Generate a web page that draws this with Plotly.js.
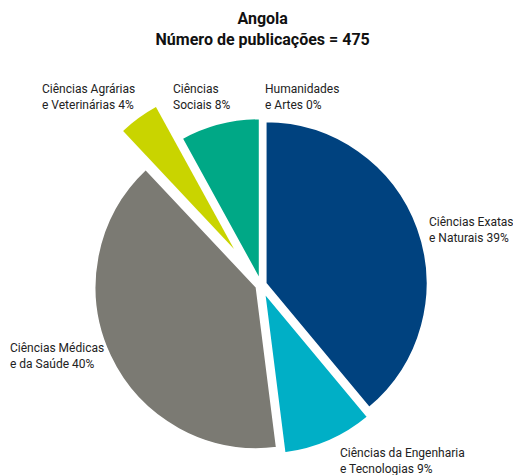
<!DOCTYPE html>
<html><head><meta charset="utf-8">
<script src="https://cdn.plot.ly/plotly-3.0.1.min.js"></script>
<style>html,body{margin:0;padding:0;background:#fff}</style>
</head><body><div id="chart" style="width:513px;height:475px"></div>
<script>
const categories = ["Ciências Exatas<br>e Naturais", "Ciências da Engenharia<br>e Tecnologias", "Ciências Médicas<br>e da Saúde", "Ciências Agrárias<br>e Veterinárias", "Ciências<br>Sociais", "Humanidades<br>e Artes"];
const publications = [185, 43, 190, 19, 38, 0];
const percentLabels = ["39%", "9%", "40%", "4%", "8%", "0%"];
const colors = ["#00427f", "#00afc6", "#7b7a73", "#c9d400", "#00a886", "#bbbbbb"];
const pulls = [0.03, 0.05, 0.03, 0, 0.03, 0];
const labelPos = [[427, 230], [338, 461], [8, 356], [40, 97], [171, 97], [263, 97]];

const W = 513, H = 475;
const cx = 261, cy = 285, R = 162;          // pie centre and radius in px
const bigPullIdx = 3, bigPullOffset = [-27, -36]; // exploded wedge offset in px
const maxPull = Math.max(...pulls);
const half1 = R * (1 + maxPull);

const transparent = 'rgba(0,0,0,0)';
const colors1 = colors.map((c, i) => i === bigPullIdx ? transparent : c);
const colors2 = colors.map((c, i) => i === bigPullIdx ? c : transparent);

const annotations = categories.map((c, i) => ({
  xref: 'paper', yref: 'paper', x: labelPos[i][0] / W, y: 1 - labelPos[i][1] / H,
  xanchor: 'left', yanchor: 'middle', align: 'left', showarrow: false,
  text: c + ' ' + percentLabels[i],
  font: {family: 'Roboto, Arial, sans-serif', size: 12, color: '#222'}
}));

const cx2 = cx + bigPullOffset[0], cy2 = cy + bigPullOffset[1];
Plotly.newPlot('chart', [{
  type: 'pie', values: publications, labels: categories, sort: false,
  direction: 'clockwise', rotation: 0, pull: pulls,
  marker: {colors: colors1, line: {color: '#fff', width: 2}},
  textinfo: 'none', hoverinfo: 'label+percent',
  domain: {x: [(cx - half1) / W, (cx + half1) / W], y: [1 - (cy + half1) / H, 1 - (cy - half1) / H]}
}, {
  type: 'pie', values: publications, labels: categories, sort: false,
  direction: 'clockwise', rotation: 0,
  marker: {colors: colors2, line: {color: transparent, width: 0}},
  textinfo: 'none', hoverinfo: 'label+percent',
  domain: {x: [(cx2 - R) / W, (cx2 + R) / W], y: [1 - (cy2 + R) / H, 1 - (cy2 - R) / H]}
}], {
  width: W, height: H, showlegend: false,
  margin: {l: 0, r: 0, t: 0, b: 0},
  paper_bgcolor: '#fff',
  title: {text: '<b>Angola</b><br><b>Número de publicações = 475</b>', x: 0.512, xanchor: 'center', y: 0.95, yanchor: 'top',
    font: {family: 'Roboto, Arial, sans-serif', size: 16, color: '#111'}},
  annotations: annotations
}, {staticPlot: true});
</script></body></html>
